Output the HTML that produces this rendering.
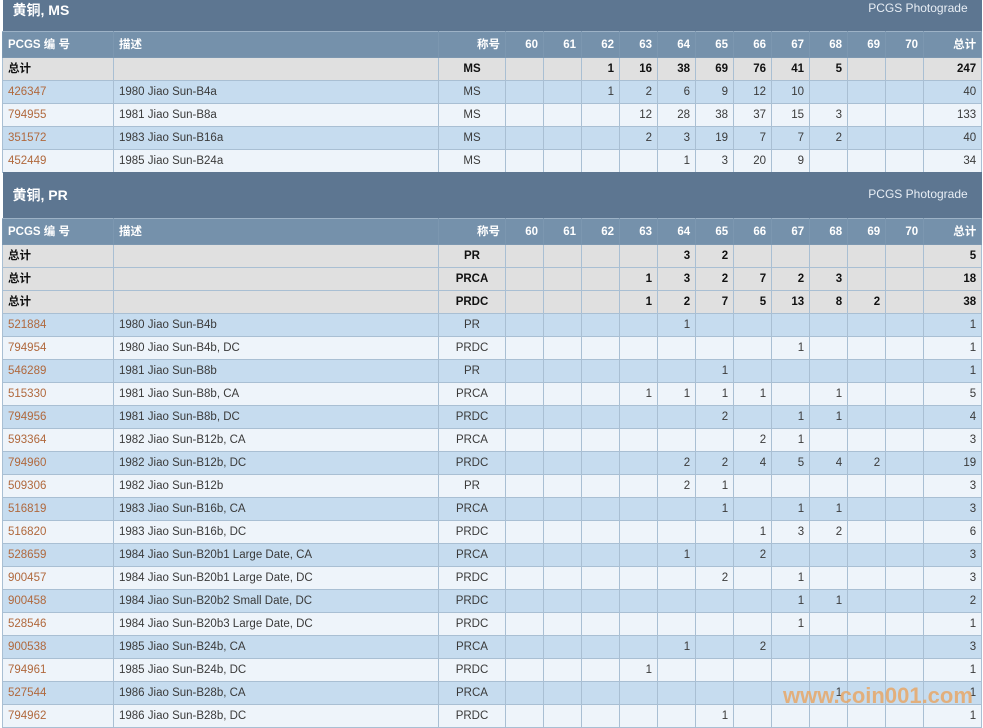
<!DOCTYPE html>
<html><head><meta charset="utf-8"><style>
body{margin:0;width:983px;height:724px;overflow:hidden;background:#fff;font-family:"Liberation Sans","Noto Sans CJK SC",sans-serif;font-size:11.5px;color:#3a3a3a}
table{position:absolute;left:2px;border-collapse:collapse;table-layout:fixed;width:979px}
td{border:1px solid #a9bfd3;padding:0 5px;height:22px;line-height:14px;text-align:right;white-space:nowrap;overflow:hidden}
td:nth-child(1),td:nth-child(2){text-align:left}
td:nth-child(3){text-align:center}
.t td{background:#5d7691;color:#fff;font-weight:bold;font-size:14px;border:none;text-align:left;padding:0 10px;line-height:16px}
.t td.r{text-align:right;font-weight:normal;font-size:12px;color:#e8eef5;padding:0 14px}
.h td{background:#7591ab;color:#fff;font-weight:bold;border-color:#7c97b0;border-top:1px solid #9db2c6;height:25px}
.s td{background:#e0e0e0;font-weight:bold;color:#111}
.a td{background:#c6dcef}
.b td{background:#eef4fa}
td.l{color:#b0683c}
.wm{position:absolute;left:783px;top:683px;font:bold 22px "Liberation Sans",sans-serif;color:#e8a868;opacity:.85}
</style></head><body>
<table style="top:0">
<colgroup><col style="width:111px"><col style="width:325px"><col style="width:67px"><col span="11" style="width:38px"><col style="width:58px"></colgroup>
<tr class="t"><td colspan="8" style="height:29px;vertical-align:top;padding-top:2px">黄铜, MS</td><td colspan="7" class="r" style="vertical-align:top;padding-top:0">PCGS Photograde</td></tr>
<tr class="h"><td>PCGS 编 号</td><td>描述</td><td style="text-align:right">称号</td><td>60</td><td>61</td><td>62</td><td>63</td><td>64</td><td>65</td><td>66</td><td>67</td><td>68</td><td>69</td><td>70</td><td>总计</td></tr>
<tr class="s"><td>总计</td><td></td><td>MS</td><td></td><td></td><td>1</td><td>16</td><td>38</td><td>69</td><td>76</td><td>41</td><td>5</td><td></td><td></td><td>247</td></tr>
<tr class="a"><td class="l">426347</td><td>1980 Jiao Sun-B4a</td><td>MS</td><td></td><td></td><td>1</td><td>2</td><td>6</td><td>9</td><td>12</td><td>10</td><td></td><td></td><td></td><td>40</td></tr>
<tr class="b"><td class="l">794955</td><td>1981 Jiao Sun-B8a</td><td>MS</td><td></td><td></td><td></td><td>12</td><td>28</td><td>38</td><td>37</td><td>15</td><td>3</td><td></td><td></td><td>133</td></tr>
<tr class="a"><td class="l">351572</td><td>1983 Jiao Sun-B16a</td><td>MS</td><td></td><td></td><td></td><td>2</td><td>3</td><td>19</td><td>7</td><td>7</td><td>2</td><td></td><td></td><td>40</td></tr>
<tr class="b"><td class="l">452449</td><td>1985 Jiao Sun-B24a</td><td>MS</td><td></td><td></td><td></td><td></td><td>1</td><td>3</td><td>20</td><td>9</td><td></td><td></td><td></td><td>34</td></tr>
</table>
<table style="top:172px">
<colgroup><col style="width:111px"><col style="width:325px"><col style="width:67px"><col span="11" style="width:38px"><col style="width:58px"></colgroup>
<tr class="t"><td colspan="8" style="height:46px;vertical-align:middle">黄铜, PR</td><td colspan="7" class="r" style="vertical-align:middle;padding-bottom:2px">PCGS Photograde</td></tr>
<tr class="h"><td>PCGS 编 号</td><td>描述</td><td style="text-align:right">称号</td><td>60</td><td>61</td><td>62</td><td>63</td><td>64</td><td>65</td><td>66</td><td>67</td><td>68</td><td>69</td><td>70</td><td>总计</td></tr>
<tr class="s"><td>总计</td><td></td><td>PR</td><td></td><td></td><td></td><td></td><td>3</td><td>2</td><td></td><td></td><td></td><td></td><td></td><td>5</td></tr>
<tr class="s"><td>总计</td><td></td><td>PRCA</td><td></td><td></td><td></td><td>1</td><td>3</td><td>2</td><td>7</td><td>2</td><td>3</td><td></td><td></td><td>18</td></tr>
<tr class="s"><td>总计</td><td></td><td>PRDC</td><td></td><td></td><td></td><td>1</td><td>2</td><td>7</td><td>5</td><td>13</td><td>8</td><td>2</td><td></td><td>38</td></tr>
<tr class="a"><td class="l">521884</td><td>1980 Jiao Sun-B4b</td><td>PR</td><td></td><td></td><td></td><td></td><td>1</td><td></td><td></td><td></td><td></td><td></td><td></td><td>1</td></tr>
<tr class="b"><td class="l">794954</td><td>1980 Jiao Sun-B4b, DC</td><td>PRDC</td><td></td><td></td><td></td><td></td><td></td><td></td><td></td><td>1</td><td></td><td></td><td></td><td>1</td></tr>
<tr class="a"><td class="l">546289</td><td>1981 Jiao Sun-B8b</td><td>PR</td><td></td><td></td><td></td><td></td><td></td><td>1</td><td></td><td></td><td></td><td></td><td></td><td>1</td></tr>
<tr class="b"><td class="l">515330</td><td>1981 Jiao Sun-B8b, CA</td><td>PRCA</td><td></td><td></td><td></td><td>1</td><td>1</td><td>1</td><td>1</td><td></td><td>1</td><td></td><td></td><td>5</td></tr>
<tr class="a"><td class="l">794956</td><td>1981 Jiao Sun-B8b, DC</td><td>PRDC</td><td></td><td></td><td></td><td></td><td></td><td>2</td><td></td><td>1</td><td>1</td><td></td><td></td><td>4</td></tr>
<tr class="b"><td class="l">593364</td><td>1982 Jiao Sun-B12b, CA</td><td>PRCA</td><td></td><td></td><td></td><td></td><td></td><td></td><td>2</td><td>1</td><td></td><td></td><td></td><td>3</td></tr>
<tr class="a"><td class="l">794960</td><td>1982 Jiao Sun-B12b, DC</td><td>PRDC</td><td></td><td></td><td></td><td></td><td>2</td><td>2</td><td>4</td><td>5</td><td>4</td><td>2</td><td></td><td>19</td></tr>
<tr class="b"><td class="l">509306</td><td>1982 Jiao Sun-B12b</td><td>PR</td><td></td><td></td><td></td><td></td><td>2</td><td>1</td><td></td><td></td><td></td><td></td><td></td><td>3</td></tr>
<tr class="a"><td class="l">516819</td><td>1983 Jiao Sun-B16b, CA</td><td>PRCA</td><td></td><td></td><td></td><td></td><td></td><td>1</td><td></td><td>1</td><td>1</td><td></td><td></td><td>3</td></tr>
<tr class="b"><td class="l">516820</td><td>1983 Jiao Sun-B16b, DC</td><td>PRDC</td><td></td><td></td><td></td><td></td><td></td><td></td><td>1</td><td>3</td><td>2</td><td></td><td></td><td>6</td></tr>
<tr class="a"><td class="l">528659</td><td>1984 Jiao Sun-B20b1 Large Date, CA</td><td>PRCA</td><td></td><td></td><td></td><td></td><td>1</td><td></td><td>2</td><td></td><td></td><td></td><td></td><td>3</td></tr>
<tr class="b"><td class="l">900457</td><td>1984 Jiao Sun-B20b1 Large Date, DC</td><td>PRDC</td><td></td><td></td><td></td><td></td><td></td><td>2</td><td></td><td>1</td><td></td><td></td><td></td><td>3</td></tr>
<tr class="a"><td class="l">900458</td><td>1984 Jiao Sun-B20b2 Small Date, DC</td><td>PRDC</td><td></td><td></td><td></td><td></td><td></td><td></td><td></td><td>1</td><td>1</td><td></td><td></td><td>2</td></tr>
<tr class="b"><td class="l">528546</td><td>1984 Jiao Sun-B20b3 Large Date, DC</td><td>PRDC</td><td></td><td></td><td></td><td></td><td></td><td></td><td></td><td>1</td><td></td><td></td><td></td><td>1</td></tr>
<tr class="a"><td class="l">900538</td><td>1985 Jiao Sun-B24b, CA</td><td>PRCA</td><td></td><td></td><td></td><td></td><td>1</td><td></td><td>2</td><td></td><td></td><td></td><td></td><td>3</td></tr>
<tr class="b"><td class="l">794961</td><td>1985 Jiao Sun-B24b, DC</td><td>PRDC</td><td></td><td></td><td></td><td>1</td><td></td><td></td><td></td><td></td><td></td><td></td><td></td><td>1</td></tr>
<tr class="a"><td class="l">527544</td><td>1986 Jiao Sun-B28b, CA</td><td>PRCA</td><td></td><td></td><td></td><td></td><td></td><td></td><td></td><td></td><td>1</td><td></td><td></td><td>1</td></tr>
<tr class="b"><td class="l">794962</td><td>1986 Jiao Sun-B28b, DC</td><td>PRDC</td><td></td><td></td><td></td><td></td><td></td><td>1</td><td></td><td></td><td></td><td></td><td></td><td>1</td></tr>
</table>
<div class="wm">www.coin001.com</div>
</body></html>
